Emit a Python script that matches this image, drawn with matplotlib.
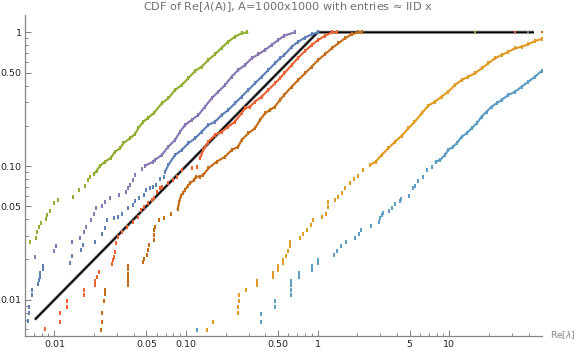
import matplotlib
matplotlib.use("Agg")
import matplotlib.pyplot as plt
from matplotlib.ticker import FixedLocator, FixedFormatter, NullFormatter

# ---------------- data ----------------
green_x = [0.00648, 0.00720, 0.00740, 0.00762, 0.00785, 0.00861, 0.00877, 0.00920, 0.00987, 0.01058,
           0.01375, 0.01545, 0.01706, 0.01798, 0.0186, 0.0199, 0.0209, 0.0222, 0.0242, 0.0269,
           0.0288, 0.0315, 0.0333, 0.0375, 0.0409, 0.0433, 0.0473, 0.0516, 0.0573, 0.0653,
           0.0733, 0.0824, 0.0926, 0.104, 0.117, 0.1314, 0.1475, 0.166, 0.1865, 0.2094,
           0.235, 0.264, 0.2917]
green_y = [0.0270, 0.0291, 0.0319, 0.0352, 0.0377, 0.0399, 0.0430, 0.0463, 0.0526, 0.0557,
           0.0583, 0.0665, 0.0713, 0.0782, 0.0832, 0.0870, 0.0922, 0.1005, 0.1077, 0.1154,
           0.128, 0.1357, 0.1479, 0.161, 0.1735, 0.1914, 0.2145, 0.2297, 0.2504, 0.2944,
           0.3209, 0.370, 0.4035, 0.453, 0.5135, 0.553, 0.621, 0.685, 0.767, 0.851,
           0.927, 0.983, 1.0]

purple_x = [0.00711, 0.00997, 0.01026, 0.01352, 0.01563, 0.01676, 0.01735, 0.01884, 0.01996, 0.0206,
            0.0231, 0.0242, 0.0264, 0.0309, 0.0349, 0.0364, 0.0377, 0.0397, 0.0409, 0.0460,
            0.0487, 0.0563, 0.0580, 0.0653, 0.0733, 0.0824, 0.0899, 0.0982, 0.1103, 0.1239,
            0.1393, 0.1565, 0.1758, 0.1976, 0.222, 0.249, 0.280, 0.315, 0.354, 0.398,
            0.447, 0.502, 0.557, 0.667]
purple_y = [0.0210, 0.0232, 0.0252, 0.0272, 0.0291, 0.0323, 0.0352, 0.0395, 0.0440, 0.0483,
            0.0500, 0.0541, 0.0573, 0.0607, 0.0640, 0.0681, 0.0721, 0.0786, 0.0857, 0.095,
            0.1005, 0.1077, 0.111, 0.1208, 0.1395, 0.1565, 0.1806, 0.2027, 0.221, 0.2406,
            0.278, 0.321, 0.3596, 0.4035, 0.4656, 0.522, 0.569, 0.639, 0.685, 0.737,
            0.804, 0.876, 0.943, 1.0]

blue_x = [0.00626, 0.0064, 0.00645, 0.00671, 0.00671, 0.00745, 0.00760, 0.00770, 0.00780, 0.00813,
          0.00813, 0.01312, 0.0135, 0.0158, 0.0164, 0.0203, 0.0228, 0.0242, 0.0252, 0.0285,
          0.0302, 0.0324, 0.0364, 0.0397, 0.0409, 0.0439, 0.0481, 0.0493, 0.0532, 0.0563,
          0.0590, 0.0634, 0.0683, 0.0692, 0.0733, 0.0824, 0.0926, 0.104, 0.117, 0.1314,
          0.1475, 0.166, 0.1865, 0.2094, 0.235, 0.264, 0.297, 0.334, 0.3754, 0.4215,
          0.4737, 0.517, 0.557, 0.634, 0.712, 0.801, 0.900, 1.01]
blue_y = [0.00697, 0.0079, 0.00886, 0.01084, 0.0118, 0.01303, 0.0140, 0.01486, 0.0159, 0.0170,
          0.01795, 0.01897, 0.0211, 0.0235, 0.0257, 0.0272, 0.0310, 0.0342, 0.0395, 0.0406,
          0.0418, 0.0435, 0.0483, 0.0511, 0.0547, 0.0579, 0.0607, 0.0661, 0.0681, 0.0700,
          0.0721, 0.0800, 0.0832, 0.0906, 0.1018, 0.1208, 0.1317, 0.1479, 0.161, 0.1806,
          0.2027, 0.2145, 0.2406, 0.2624, 0.2944, 0.330, 0.370, 0.4155, 0.4656, 0.522,
          0.586, 0.639, 0.676, 0.780, 0.851, 0.912, 0.966, 1.0]

red_x = [0.00847, 0.0110, 0.0110, 0.01239, 0.01239, 0.01676, 0.01676, 0.0203, 0.0203, 0.0209,
         0.0218, 0.0275, 0.0277, 0.0283, 0.0287, 0.0292, 0.0305, 0.0324, 0.0354, 0.0397,
         0.0433, 0.0454, 0.0479, 0.0511, 0.0548, 0.0573, 0.0598, 0.0634, 0.0660, 0.0733,
         0.0800, 0.0849, 0.0926, 0.1103, 0.1204, 0.1276, 0.1352, 0.1475, 0.166, 0.1865,
         0.2094, 0.235, 0.264, 0.280, 0.306, 0.334, 0.3754, 0.4215, 0.4737, 0.517,
         0.557, 0.634, 0.712, 0.801, 0.900, 1.01, 1.136, 1.278, 1.394]
red_y = [0.00601, 0.00685, 0.0079, 0.00886, 0.00978, 0.01084, 0.0118, 0.01288, 0.0138, 0.01486,
         0.0162, 0.0184, 0.0198, 0.0210, 0.0229, 0.0264, 0.0296, 0.0323, 0.0352, 0.0383,
         0.0418, 0.0469, 0.0496, 0.0526, 0.0557, 0.0579, 0.0642, 0.0681, 0.0700, 0.0743,
         0.0786, 0.0832, 0.0933, 0.0961, 0.0988, 0.1142, 0.1317, 0.152, 0.1706, 0.1806,
         0.1968, 0.2145, 0.248, 0.270, 0.278, 0.303, 0.330, 0.370, 0.4155, 0.453,
         0.4935, 0.569, 0.6455, 0.7245, 0.804, 0.876, 0.943, 0.997, 1.0]

brown_x = [0.0226, 0.0228, 0.0229, 0.0237, 0.0240, 0.0242, 0.0360, 0.0362, 0.0363, 0.0364,
           0.0364, 0.0364, 0.0473, 0.0477, 0.0502, 0.0516, 0.0522, 0.0567, 0.0567, 0.0572,
           0.0580, 0.0622, 0.0679, 0.0764, 0.0863, 0.0888, 0.0914, 0.0942, 0.0982, 0.1028,
           0.107, 0.1154, 0.119, 0.1276, 0.1352, 0.1475, 0.1708, 0.1976, 0.222, 0.249,
           0.264, 0.297, 0.334, 0.365, 0.398, 0.434, 0.4737, 0.517, 0.557, 0.634,
           0.712, 0.801, 0.900, 1.01, 1.136, 1.278, 1.434, 1.612, 1.813, 2.035, 2.18]
brown_y = [0.00593, 0.00685, 0.0079, 0.00978, 0.0110, 0.0118, 0.0129, 0.0138, 0.01486, 0.0157,
           0.0169, 0.01795, 0.0190, 0.0202, 0.0216, 0.0235, 0.0257, 0.0280, 0.0305, 0.0330,
           0.0350, 0.0395, 0.0410, 0.0438, 0.0477, 0.0541, 0.0600, 0.0625, 0.0661, 0.0708,
           0.0743, 0.0786, 0.0832, 0.0832, 0.0857, 0.0961, 0.1077, 0.1174, 0.1317, 0.1395,
           0.1565, 0.1757, 0.1914, 0.221, 0.248, 0.2624, 0.278, 0.312, 0.340, 0.392,
           0.440, 0.4935, 0.553, 0.621, 0.685, 0.759, 0.827, 0.902, 0.966, 1.0, 1.0]

orange_x = [0.1434, 0.1592, 0.2466, 0.2466, 0.251, 0.251, 0.284, 0.344, 0.344, 0.455,
            0.455, 0.4966, 0.4966, 0.542, 0.542, 0.572, 0.5916, 0.6126, 0.618, 0.7336,
            0.769, 0.825, 0.889, 0.916, 1.078, 1.156, 1.191, 1.20, 1.354, 1.419,
            1.538, 1.612, 1.76, 1.888, 2.014, 2.222, 2.50, 2.76, 3.06, 3.44,
            3.87, 4.35, 4.88, 5.42, 6.17, 6.92, 7.78, 8.75, 9.82, 11.04,
            12.42, 13.94, 15.67, 17.62, 19.78, 22.24, 25.0, 28.1, 31.6, 35.5,
            39.8, 44.8, 50.5]
orange_y = [0.00593, 0.00685, 0.0079, 0.00886, 0.00978, 0.01084, 0.0118, 0.0129, 0.0138, 0.01486,
            0.0159, 0.0167, 0.01795, 0.0189, 0.0198, 0.0212, 0.0231, 0.0253, 0.0272, 0.0291,
            0.0310, 0.0332, 0.0362, 0.0395, 0.0413, 0.0435, 0.0496, 0.0535, 0.0557, 0.0583,
            0.0625, 0.0681, 0.0743, 0.0800, 0.0841, 0.0933, 0.1018, 0.1077, 0.1208, 0.1357,
            0.152, 0.1685, 0.1914, 0.2123, 0.248, 0.2825, 0.303, 0.330, 0.3596, 0.4035,
            0.440, 0.4656, 0.4935, 0.538, 0.586, 0.639, 0.676, 0.716, 0.759, 0.780,
            0.813, 0.861, 0.891]

lightblue_x = [0.1204, 0.371, 0.371, 0.4737, 0.4737, 0.627, 0.627, 0.630, 0.632, 0.721,
               0.721, 0.905, 0.905, 1.0, 1.0, 1.33, 1.394, 1.496, 1.632, 1.92,
               2.06, 2.12, 2.54, 2.92, 2.96, 3.06, 3.12, 3.48, 3.65, 3.87,
               4.22, 4.30, 4.94, 5.33, 5.49, 5.82, 6.35, 6.73, 7.35, 7.88,
               8.50, 9.27, 9.82, 10.7, 11.4, 12.42, 13.55, 14.8, 16.15, 17.62,
               19.2, 21.0, 22.9, 25.0, 28.1, 31.6, 35.5, 39.8, 44.8, 50.5]
lightblue_y = [0.00593, 0.00685, 0.0078, 0.0088, 0.00978, 0.01084, 0.0118, 0.0129, 0.0138, 0.01486,
               0.0159, 0.0167, 0.01795, 0.0189, 0.0199, 0.0216, 0.0231, 0.0253, 0.0272, 0.0291,
               0.0310, 0.0332, 0.0357, 0.0383, 0.0406, 0.0431, 0.0444, 0.0463, 0.0489, 0.0519,
               0.0547, 0.0568, 0.0601, 0.0681, 0.0713, 0.0773, 0.0832, 0.0933, 0.0988, 0.1077,
               0.111, 0.1208, 0.1317, 0.1395, 0.1479, 0.1657, 0.1757, 0.1914, 0.2086, 0.234,
               0.255, 0.278, 0.2944, 0.312, 0.340, 0.3596, 0.392, 0.427, 0.4656, 0.515]

# single largest eigenvalue (y = 1) of some series
max_x = {"green": 15.7, "red": 31.6, "purple": 39.4, "brown": 50.5}

ref_x = [0.0071, 1.0, 44.0]
ref_y = [0.0071, 1.0, 1.0]

x_major = [0.01, 0.05, 0.1, 0.5, 1, 5, 10]
x_major_labels = ["0.01", "0.05", "0.10", "0.50", "1", "5", "10"]
y_major = [0.01, 0.05, 0.1, 0.5, 1]
y_major_labels = ["0.01", "0.05", "0.10", "0.50", "1"]

title = "CDF of Re[$\\lambda$(A)], A=1000x1000 with entries \u2248 IID x"
xlabel = "Re[$\\lambda$]"

# ---------------- styling ----------------
colors = {
    "blue": "#5E81B5", "orange": "#E19C24", "green": "#8FB032", "red": "#EB6235",
    "purple": "#8778B3", "brown": "#C56E1A", "lightblue": "#5D9EC7",
}
line_from = {"green": 0.085, "purple": 0.1, "blue": 0.088, "red": 0.11,
             "brown": 0.045, "orange": 0.1, "lightblue": 0.1}
series = {
    "lightblue": (lightblue_x, lightblue_y),
    "orange": (orange_x, orange_y),
    "brown": (brown_x, brown_y),
    "red": (red_x, red_y),
    "blue": (blue_x, blue_y),
    "purple": (purple_x, purple_y),
    "green": (green_x, green_y),
}
dash = [(-0.62, -1), (0.62, -1), (0.62, 1), (-0.62, 1), (-0.62, -1)]

fig = plt.figure(figsize=(5.76, 3.53), dpi=100)
W, H = 576, 353
ax = fig.add_axes([25 / W, (H - 335.7) / H, (542.3 - 25) / W, (335.7 - 15) / H])
ax.set_xscale("log")
ax.set_yscale("log")
ax.set_xlim(0.00597, 50.9)
ax.set_ylim(0.00538, 1.347)

ax.plot(ref_x, ref_y, color="#a0a0a0", lw=2.4, zorder=2, solid_capstyle="butt")
ax.plot(ref_x, ref_y, color="black", lw=1.25, zorder=2.1, solid_capstyle="butt")

for name, (xs, ys) in series.items():
    c = colors[name]
    ax.plot(xs, ys, ls="none", marker=dash, ms=2.6, mew=0, color=c, zorder=3)
    lx = [x for x, y in zip(xs, ys) if y >= line_from[name]]
    ly = [y for y in ys if y >= line_from[name]]
    ax.plot(lx, ly, color=c, lw=1.55, zorder=3)
    if name in max_x:
        ax.plot([max_x[name]], [1.0], ls="none", marker="s", ms=2.0, mew=0,
                color=c, zorder=4, clip_on=False)

for s in ["top", "right"]:
    ax.spines[s].set_visible(False)
for s in ["left", "bottom"]:
    ax.spines[s].set_color("#858585")
    ax.spines[s].set_linewidth(0.9)

ax.xaxis.set_major_locator(FixedLocator(x_major))
ax.xaxis.set_major_formatter(FixedFormatter(x_major_labels))
xminor = [m * 10.0 ** e for e in range(-3, 2) for m in range(2, 10)
          if m != 5 and 0.00597 <= m * 10.0 ** e <= 50.9]
ax.xaxis.set_minor_locator(FixedLocator(xminor))
ax.xaxis.set_minor_formatter(NullFormatter())

ax.yaxis.set_major_locator(FixedLocator(y_major))
ax.yaxis.set_major_formatter(FixedFormatter(y_major_labels))
yminor = [m * 10.0 ** e for e in range(-3, 1) for m in range(2, 10)
          if m != 5 and 0.00538 <= m * 10.0 ** e <= 1.347]
ax.yaxis.set_minor_locator(FixedLocator(yminor))
ax.yaxis.set_minor_formatter(NullFormatter())

ax.tick_params(which="major", direction="in", length=4.0, width=0.8, color="#858585",
               labelsize=6.8, labelcolor="#222222")
ax.tick_params(which="minor", direction="in", length=2.4, width=0.7, color="#858585")
ax.tick_params(axis="x", which="major", pad=3)
ax.tick_params(axis="y", which="major", pad=2.5)

fig.text(0.5, 1 - 7.5 / H, title, ha="center", va="center", fontsize=8.1, color="#707070")
fig.text(550 / W, 1 - 335.5 / H, xlabel, ha="left", va="center", fontsize=6.6, color="#858585")

fig.savefig("out.png", dpi=100)
